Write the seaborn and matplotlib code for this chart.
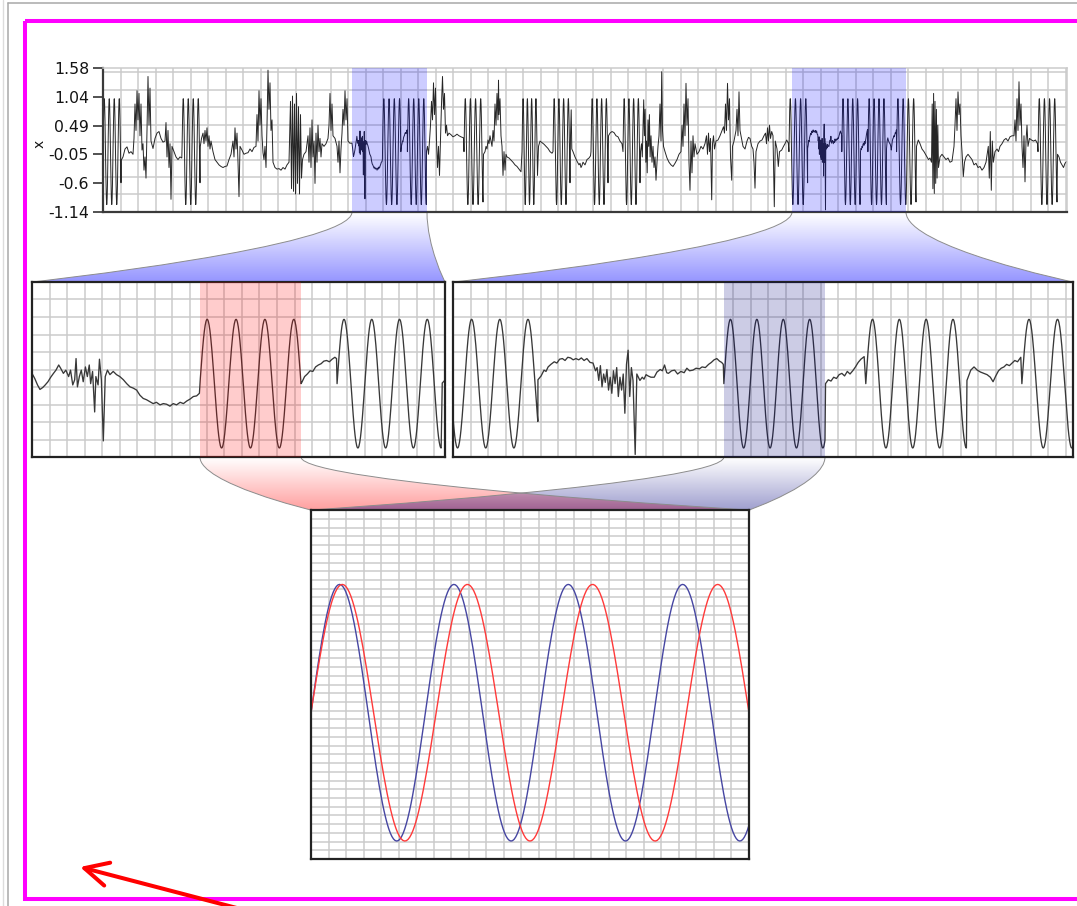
import numpy as np
import matplotlib
matplotlib.use("Agg")
import matplotlib.pyplot as plt
import seaborn as sns
from matplotlib.path import Path
from matplotlib.patches import PathPatch, Rectangle, FancyArrowPatch
from matplotlib.ticker import FixedLocator
from matplotlib.colors import to_rgb

# ---------------------------------------------------------------- data
# Sine bursts (unit amplitude): start time, end time, number of cycles
burst_start = [0.0, 79.0, 279.5, 304.4, 361.0, 419.0, 450.0, 488.0, 520.0,
               685.95, 738.8, 764.9, 793.6, 935.0]
burst_end = [18.0, 97.0, 297.85, 323.3, 380.0, 434.0, 467.0, 505.0, 537.0,
             704.6, 757.4, 783.4, 813.0, 954.0]
burst_cycles = [3.6, 3.6, 3.5, 3.75, 3.7, 3.5, 3.6, 3.6, 3.6,
                3.6, 3.83, 3.75, 3.7, 3.7]

# Drifting / noisy stretches between the bursts: (time, value)
wander_01 = [(18.3, -0.16), (20, -0.1), (22, 0.05), (24, 0.09), (26, -0.03), (28, 0.0),
             (30, -0.05), (31, 0.25), (32, 0.9), (33, 0.4), (34, 1.15), (35, 0.6), (36, 1.1),
             (37, 0.3), (38, 0.9), (39, 0.03), (40, 0.15), (41, -0.35), (42, -0.1), (43, -0.5),
             (44, 0.4), (45, 1.42), (46, 0.5), (47, 1.2), (48, 0.2), (50, 0.06), (52, 0.25),
             (54, 0.35), (56, 0.38), (58, 0.25), (60, 0.18), (62, 0.2), (63, 0.55), (64, -0.1),
             (65, 0.4), (66, -0.3), (67, 0.15), (68, -0.9), (69, 0.1), (71, 0.0), (73, -0.1),
             (75, -0.15), (77, -0.1), (78.8, -0.12)]
wander_02 = [(97.3, 0.1), (98.5, 0.25), (100, 0.35), (101, 0.15), (102, 0.4), (103, 0.2),
             (104, 0.45), (105, 0.1), (106, 0.3), (107, 0.05), (108, 0.2), (110, 0.0),
             (112, -0.15), (114, -0.2), (116, -0.25), (118, -0.28), (120, -0.3), (122, -0.28),
             (124, -0.27), (126, -0.15), (128, -0.05), (130, 0.2), (131, -0.1), (132, 0.45),
             (133, 0.05), (134, 0.35), (135, -0.2), (136, -0.85), (137, 0.1), (139, 0.03),
             (141, -0.05), (143, -0.03), (145, -0.02), (147, 0.05), (149, 0.0), (151, 0.08),
             (153, 0.1), (154, 0.7), (155, 0.2), (156, 1.15), (157, 0.5), (158, 1.0), (159, 0.3),
             (160, -0.02), (161, -0.15), (162, 0.1), (163, -0.3), (164, 0.5), (165, 1.54),
             (166, 0.8), (167, 1.3), (168, 0.4), (169, 0.6), (170, -0.2), (172, -0.3),
             (174, -0.33), (176, -0.32), (178, -0.35), (180, -0.3), (182, -0.33), (184, -0.25),
             (186, -0.2), (187.5, 0.95), (188.5, -0.7), (189.5, 1.05), (190.5, -0.75),
             (191.5, 0.9), (192.5, -0.8), (193.5, 1.1), (194.5, -0.6), (195.5, 0.85),
             (196.5, -0.8), (197.5, 0.7), (198.5, -0.5)]
wander_03 = [(199.5, -0.15), (201, -0.05), (203, 0.0), (205, 0.3), (206, -0.2), (207, 0.45),
             (208, -0.3), (209, 0.6), (210, -0.1), (211, 0.2), (212, -0.6), (213, 0.35),
             (214, -0.2), (215, 0.5), (216, 0.0), (217, 0.25), (218, -0.1), (219, 0.15),
             (221, 0.1), (223, 0.15), (225, 0.25), (226, 0.5), (227, 1.1), (228, 0.4),
             (229, 0.9), (230, 0.3), (232, 0.25), (234, 0.1), (235, -0.2), (236, 0.2),
             (237, -0.4), (238, 0.05), (239, 0.35), (240, 0.8), (241, 0.5), (242, 1.15),
             (243, 0.6), (244, 1.0), (245, 0.2), (246.8, 0.16),
             (249.0, 0.16), (249.5, 0.08), (250.0, -0.02), (250.45, -0.09), (250.95, -0.06),
             (251.4, -0.02), (251.9, 0.03), (252.4, 0.10), (252.9, 0.16), (253.35, 0.21),
             (253.85, 0.29), (254.2, 0.24), (254.7, 0.16), (255.15, 0.21), (255.65, 0.11),
             (256.0, 0.21), (256.4, -0.02), (256.75, 0.06), (257.0, 0.39), (257.25, -0.05),
             (257.6, 0.11), (257.95, 0.21), (258.3, 0.03), (258.7, 0.26), (259.05, 0.11),
             (259.4, 0.29), (259.65, 0.0), (260.0, 0.19), (260.38, -0.44), (260.6, 0.11),
             (261.0, -0.02), (261.25, 0.38), (261.6, 0.06), (261.95, -0.89), (262.3, 0.11),
             (262.7, 0.21), (263.15, 0.14), (263.75, 0.19), (264.35, 0.14), (264.95, 0.11),
             (265.6, 0.06), (266.2, 0.0), (266.8, -0.05), (267.4, -0.07), (268.0, -0.1),
             (268.6, -0.18), (269.2, -0.23), (269.8, -0.25), (270.4, -0.28), (271.0, -0.31),
             (271.6, -0.29), (272.25, -0.33), (272.85, -0.31), (273.45, -0.32), (274.05, -0.35),
             (274.65, -0.31), (275.25, -0.33), (275.9, -0.29), (276.5, -0.31), (277.1, -0.27),
             (277.7, -0.24), (278.3, -0.20), (278.9, -0.19), (279.4, -0.15)]
wander_04 = [(298.0, 0.02), (298.5, 0.11), (299.0, 0.15), (299.5, 0.2), (300.0, 0.19),
             (300.5, 0.26), (301.0, 0.29), (301.5, 0.31), (302.0, 0.35), (302.5, 0.36),
             (303.0, 0.34), (303.5, 0.38), (304.0, 0.41), (304.3, 0.39)]
wander_05 = [(323.5, 0.01), (324.5, 0.1), (325.5, -0.05), (326.5, 0.2), (327.5, 0.5),
             (328.5, 0.95), (329.5, 0.6), (330.5, 1.3), (331.5, 0.7), (332.5, 1.2), (333.5, 0.2),
             (334.5, -0.3), (335.5, 0.1), (336.5, -0.45), (337.5, 0.2), (338.5, 0.9),
             (339.5, 1.42), (340.5, 0.8), (341.5, 1.1), (342.5, 0.35), (343.5, 0.5), (344.5, 0.3),
             (346, 0.35), (348, 0.32), (350, 0.28), (352, 0.3), (354, 0.33), (356, 0.3),
             (358, 0.28), (360.5, 0.26)]
wander_06 = [(380.5, -0.05), (382, 0.0), (383, 0.1), (384, 0.05), (385, 0.22), (386, 0.15),
             (387, 0.3), (388, 0.2), (389, 0.1), (390, 0.4), (391, 0.2), (392, 0.9), (393, 0.5),
             (394, 1.1), (395, 0.6), (395.5, 1.35), (396, 0.7), (397, 1.0), (398, 0.3), (399, 0.1),
             (400, -0.45), (401, 0.0), (402, -0.35), (403, -0.05), (404, -0.1), (406, -0.12),
             (408, -0.16), (410, -0.2), (412, -0.25), (414, -0.28), (416, -0.33), (418, -0.38)]
wander_07 = [(434.5, -0.45), (435.5, 0.1), (437, 0.2), (439, 0.17), (441, 0.14), (443, 0.1),
             (445, 0.06), (447, 0.0), (449, -0.03)]
wander_08 = [(467.5, 0.3), (468.2, 0.79), (468.8, 0.05), (470, 0.0), (472, -0.1), (474, -0.18),
             (476, -0.25), (477, -0.22), (478, -0.3), (479, -0.26), (480, -0.2), (482, -0.25),
             (484, -0.15), (486, -0.12), (487.5, -0.08)]
wander_09 = [(505.5, 0.3), (507, 0.35), (509, 0.38), (511, 0.36), (513, 0.3), (515, 0.28),
             (517, 0.2), (519, 0.15)]
wander_10 = [(537.5, 0.0), (538.5, 0.15), (539.3, -0.1), (540, 0.45), (540.7, 0.98), (541.4, 0.3),
             (542.1, 0.8), (542.8, -0.2), (543.5, 0.2), (544.2, -0.4), (545, 0.6), (545.7, 0.1),
             (546.4, 0.7), (547.1, -0.1), (548, 0.3), (549, -0.2), (550, 0.1), (551, -0.3),
             (552, -0.1), (553, -0.54), (554, -0.2), (555, 0.1), (556, 0.3), (557, 0.9),
             (558, 0.2), (558.7, 1.51), (559.5, 0.4), (560.5, 0.1), (562, 0.0), (564, -0.12),
             (566, -0.2), (568, -0.25), (570, -0.28), (572, -0.22), (574, -0.15), (576, -0.05),
             (578, 0.0), (579, 0.5), (580, 0.1), (581, 0.9), (582, 0.3), (583, 1.29), (584, 0.5),
             (585, 1.0), (586, -0.2), (587, -0.73), (588, 0.2), (589, -0.4), (590, 0.3),
             (591, -0.1), (592, 0.15), (594, -0.05), (596, 0.0), (598, 0.1), (600, 0.05),
             (602, 0.15), (603.5, 0.3), (604.5, -0.05), (605.5, 0.35), (606.5, 0.0),
             (607.5, 0.25), (608.7, -0.91), (609.5, 0.15), (610.5, 0.3), (611.5, 0.05),
             (613, 0.2), (615, 0.22), (617, 0.3), (619, 0.4), (620.5, 0.47), (621.5, 0.35),
             (622.5, 0.9), (623.5, 0.4), (624.5, 1.29), (625.5, 0.6), (626.5, 1.0),
             (627.5, -0.1), (628.7, -0.54), (629.5, 0.1), (631, 0.2), (633, 0.4), (634, 0.8),
             (635, 0.3), (636, 1.13), (637, 0.4), (638.5, 0.25), (640, 0.1), (642, 0.05),
             (644, 0.2), (645.5, 0.27), (647, 0.25), (648.7, 0.1), (650, 0.05), (651, -0.2),
             (652, -0.69), (653, 0.0), (655, 0.15), (657, 0.2), (659, 0.22), (661, 0.3),
             (662.5, 0.35), (663.5, 0.15), (664.5, 0.45), (665.5, 0.2), (666.5, 0.5),
             (667.5, 0.25), (668.7, 0.38), (670, 0.3), (671.3, -1.04), (672.3, 0.2),
             (674, 0.05), (675.3, -0.28), (676.5, 0.0), (678.7, 0.03), (680.5, 0.1),
             (682, 0.15), (683.7, 0.22), (685.3, 0.16)]
wander_11 = [(704.62, 0.06), (705.2, 0.12), (705.74, 0.21), (706.1, 0.19), (706.49, 0.26),
             (707.0, 0.3), (707.62, 0.34), (708.1, 0.32), (708.6, 0.38), (709.12, 0.39),
             (709.6, 0.36), (710.1, 0.41), (710.62, 0.40), (711.1, 0.37), (711.6, 0.39),
             (712.12, 0.37), (712.6, 0.40), (713.1, 0.36), (713.62, 0.39), (714.2, 0.33),
             (714.75, 0.32), (715.2, 0.2), (715.5, 0.25), (715.8, 0.05), (716.1, 0.28),
             (716.4, -0.05), (716.7, 0.15), (717.0, 0.02), (717.3, 0.22), (717.6, -0.1),
             (717.9, 0.1), (718.2, -0.15), (718.5, 0.2), (718.8, 0.0), (719.1, 0.25),
             (719.4, -0.2), (719.7, 0.1), (720.0, -0.1), (720.3, 0.15), (720.6, -0.46),
             (720.9, 0.3), (721.2, 0.52), (721.5, -0.2), (721.8, 0.25), (722.1, 0.05),
             (722.5, -1.1), (722.8, 0.15), (723.37, 0.05), (723.8, 0.1), (724.12, 0.07),
             (724.5, 0.14), (724.87, 0.12), (725.4, 0.1), (726.0, 0.1), (726.5, 0.18),
             (727.1, 0.22), (727.5, 0.2), (727.9, 0.29), (728.3, 0.17), (728.6, 0.16),
             (729.2, 0.2), (729.75, 0.21), (730.3, 0.15), (730.9, 0.19), (731.5, 0.17),
             (732.0, 0.24), (732.5, 0.2), (733.1, 0.21), (733.7, 0.24), (734.3, 0.23),
             (734.8, 0.26), (735.4, 0.25), (736.0, 0.3), (736.5, 0.33), (737.0, 0.37),
             (737.5, 0.39), (738.0, 0.35), (738.4, 0.33), (738.7, 0.3)]
wander_12 = [(757.5, 0.0), (758.0, 0.06), (758.5, 0.04), (759.0, 0.1), (759.5, 0.08),
             (760.0, 0.14), (760.5, 0.16), (761.0, 0.12), (761.5, 0.19), (762.0, 0.15),
             (762.5, 0.2), (763.0, 0.26), (763.5, 0.33), (764.0, 0.38), (764.6, 0.42)]
wander_13 = [(783.5, 0.05), (784.2, 0.21), (784.8, 0.26), (785.4, 0.21), (786.0, 0.18),
             (786.6, 0.16), (787.2, 0.14), (787.8, 0.1), (788.3, 0.03), (788.8, 0.12),
             (789.3, 0.2), (789.8, 0.24), (790.3, 0.26), (790.8, 0.3), (791.3, 0.28),
             (791.8, 0.32), (792.3, 0.36), (792.8, 0.34), (793.4, 0.41)]
wander_14 = [(813.5, 0.1), (815.3, 0.22), (817, 0.15), (819, 0.05), (821, 0.0), (822.5, -0.05),
             (824, -0.1), (825.5, -0.15), (827, -0.12), (828.5, -0.2), (829.2, 0.9),
             (829.9, -0.7), (830.6, 1.1), (831.3, -0.79), (832, 0.95), (832.7, -0.6),
             (833.4, 0.8), (834.1, -0.5), (834.8, 0.5), (835.5, -0.3), (837, -0.1), (839, -0.05),
             (841, -0.1), (843, -0.15), (845, -0.12), (847, -0.2), (849, -0.18), (851, 0.1),
             (852, 0.5), (853, 1.0), (854, 0.4), (855, 1.13), (856, 0.7), (857, 0.9), (858, 0.3),
             (859, 0.0), (860.3, -0.47), (861.5, -0.2), (863, -0.1), (865, -0.05), (867, -0.1),
             (869, -0.15), (871, -0.25), (873, -0.22), (875, -0.3), (877, -0.28), (879, -0.35),
             (881, -0.3), (883, -0.2), (885.3, 0.1), (886.3, -0.5), (887.3, 0.38),
             (888.3, -0.73), (889.3, 0.2), (890.3, -0.2), (892, 0.0), (894, 0.05),
             (895.5, 0.0), (897, 0.1), (899, 0.15), (901, 0.22), (903, 0.25), (905, 0.2),
             (907, 0.28), (909, 0.3), (911, 0.3), (912, 0.6), (913, 0.2), (914, 1.0), (915, 0.4),
             (916, 1.32), (917, 0.5), (918, 0.9), (919, 0.1), (920, -0.3), (921, 0.3),
             (922, -0.57), (923, 0.2), (924, 0.5), (925, 0.1), (926.5, 0.25), (928.5, 0.22),
             (930.5, 0.2), (932.5, 0.22), (934.5, 0.15)]
wander_15 = [(954.5, -0.05), (956, -0.1), (957.5, -0.2), (959, -0.25), (960.5, -0.3),
             (962, -0.22), (964.0, -0.18)]

wander_segments = [wander_01, wander_02, wander_03, wander_04, wander_05, wander_06,
                   wander_07, wander_08, wander_09, wander_10, wander_11, wander_12,
                   wander_13, wander_14, wander_15]

time_range = (0.0, 964.0)
y_limits = (-1.14, 1.58)
y_tick_labels = ["-1.14", "-0.6", "-0.05", "0.49", "1.04", "1.58"]

overview_windows = [(249.0, 324.0), (689.0, 803.0)]     # shown in the two middle panels
detail_windows = [(279.5, 297.85), (738.8, 757.4)]      # overlaid in the bottom panel
detail_colors = ["#ff0000", "#000080"]
zoom_line_colors = ["#ff3a3a", "#4646a2"]

# ---------------------------------------------------------------- series
def burst_curve(start, end, cycles, per_cycle=72):
    n = int(cycles * per_cycle) + 2
    t = np.linspace(start, end, n)
    return t, np.sin(2 * np.pi * cycles * (t - start) / (end - start))

pieces_t, pieces_v = [], []
for s, e, c in zip(burst_start, burst_end, burst_cycles):
    bt, bv = burst_curve(s, e, c)
    pieces_t.append(bt)
    pieces_v.append(bv)
for seg in wander_segments:
    arr = np.asarray(seg, dtype=float)
    pieces_t.append(arr[:, 0])
    pieces_v.append(arr[:, 1])
t_all = np.concatenate(pieces_t)
v_all = np.concatenate(pieces_v)
order = np.argsort(t_all, kind="stable")
t_all, v_all = t_all[order], v_all[order]

# ---------------------------------------------------------------- figure
sns.set_theme(style="white")
plt.rcParams["font.family"] = ["DejaVu Sans"]

W, H = 1077, 906
fig = plt.figure(figsize=(W / 100, H / 100), dpi=100)
fig.patch.set_facecolor("white")


def px_box(x0, y0, x1, y1):
    return [x0 / W, 1 - y1 / H, (x1 - x0) / W, (y1 - y0) / H]


ax_over = fig.add_axes([0, 0, 1, 1], zorder=0)
ax_over.axis("off")
ax_top = fig.add_axes(px_box(103, 68, 1067, 212), zorder=2)
ax_left = fig.add_axes(px_box(32, 282, 445, 457), zorder=2)
ax_right = fig.add_axes(px_box(453, 282, 1073, 457), zorder=2)
ax_zoom = fig.add_axes(px_box(311, 510, 749, 859), zorder=2)

GRID_COLOR = "#cbcbcb"


def pixel_grid(ax, step_x, step_y):
    pos = ax.get_position()
    w_px, h_px = pos.width * W, pos.height * H
    x0, x1 = ax.get_xlim()
    y0, y1 = ax.get_ylim()
    xs = x0 + np.arange(1, int(w_px / step_x) + 1) * step_x * (x1 - x0) / w_px
    ys = y0 + np.arange(1, int(h_px / step_y) + 1) * step_y * (y1 - y0) / h_px
    ax.xaxis.set_minor_locator(FixedLocator(xs))
    ax.yaxis.set_minor_locator(FixedLocator(ys))
    ax.grid(False, which="major")
    ax.grid(True, which="minor", color=GRID_COLOR, linewidth=1.1)
    ax.tick_params(which="minor", length=0)
    ax.set_axisbelow(True)


# overview
sns.lineplot(x=t_all, y=v_all, ax=ax_top, estimator=None, sort=False,
             color="#262626", linewidth=0.7)
ax_top.set_xlim(*time_range)
ax_top.set_ylim(*y_limits)
ax_top.set_xticks([])
ax_top.set_yticks(np.linspace(y_limits[0], y_limits[1], len(y_tick_labels)))
ax_top.set_yticklabels(y_tick_labels)
ax_top.tick_params(axis="y", which="major", length=7, width=1.2, color="#333333",
                   pad=3, labelsize=11.3, labelcolor="#141414", left=True)
ax_top.set_xlabel("")
ax_top.set_ylabel("x", fontsize=10, color="#141414")
ax_top.yaxis.set_label_coords(-0.058, 0.47)
pixel_grid(ax_top, 17.5, 17.5)
for side in ("top", "right"):
    ax_top.spines[side].set_color(GRID_COLOR)
    ax_top.spines[side].set_linewidth(1.1)
for side in ("left", "bottom"):
    ax_top.spines[side].set_color("#3a3a3a")
    ax_top.spines[side].set_linewidth(1.6)
for w0, w1 in overview_windows:
    ax_top.axvspan(w0, w1, color="#0000ff", alpha=0.2, lw=0, zorder=3)

# middle detail panels
for ax, win, dwin, dcol in zip((ax_left, ax_right), overview_windows,
                               detail_windows, detail_colors):
    sns.lineplot(x=t_all, y=v_all, ax=ax, estimator=None, sort=False,
                 color="#383838", linewidth=0.95)
    ax.set_xlim(*win)
    ax.set_ylim(*y_limits)
    ax.set_xticks([])
    ax.set_yticks([])
    ax.set_xlabel("")
    ax.set_ylabel("")
    pixel_grid(ax, 17.5, 17.5)
    for sp in ax.spines.values():
        sp.set_color("#222222")
        sp.set_linewidth(1.6)
    ax.axvspan(dwin[0], dwin[1], color=dcol, alpha=0.2, lw=0, zorder=3)

# bottom overlay of the two highlighted bursts, each on its own normalised window
for (w0, w1), col in zip(detail_windows[::-1], zoom_line_colors[::-1]):
    m = (t_all >= w0) & (t_all <= w1)
    sns.lineplot(x=(t_all[m] - w0) / (w1 - w0), y=v_all[m], ax=ax_zoom,
                 estimator=None, sort=False, color=col, linewidth=1.0)
ax_zoom.set_xlim(0, 1)
ax_zoom.set_ylim(*y_limits)
ax_zoom.set_xticks([])
ax_zoom.set_yticks([])
ax_zoom.set_xlabel("")
ax_zoom.set_ylabel("")
pixel_grid(ax_zoom, 17.5, 8.72)
for sp in ax_zoom.spines.values():
    sp.set_color("#222222")
    sp.set_linewidth(1.6)

# ---------------------------------------------------------------- connectors
ax_over.set_xlim(0, W)
ax_over.set_ylim(H, 0)
inv = ax_over.transData.inverted()


def connector(src_ax, window, dst_ax, color, alpha_max):
    y_lo = src_ax.get_ylim()[0]
    (xtl, yt), (xtr, _) = inv.transform(
        src_ax.transData.transform([(window[0], y_lo), (window[1], y_lo)]))
    (xbl, yb), (xbr, _) = inv.transform(dst_ax.transAxes.transform([(0, 1), (1, 1)]))
    ym = (yt + yb) / 2
    verts = [(xtl, yt), (xtl, ym), (xbl, yb), (xbl, yb), (xbr, yb),
             (xbr, yb), (xtr, ym), (xtr, yt), (xtl, yt)]
    codes = [Path.MOVETO, Path.CURVE4, Path.CURVE4, Path.CURVE4, Path.LINETO,
             Path.CURVE4, Path.CURVE4, Path.CURVE4, Path.CLOSEPOLY]
    clip = PathPatch(Path(verts, codes), facecolor="none", edgecolor="none",
                     transform=ax_over.transData)
    ax_over.add_patch(clip)
    rgba = np.zeros((256, 1, 4))
    rgba[..., :3] = to_rgb(color)
    rgba[:, 0, 3] = np.linspace(0.0, alpha_max, 256)
    im = ax_over.imshow(rgba, extent=(min(xtl, xbl), max(xtr, xbr), yb, yt),
                        origin="upper", aspect="auto", interpolation="bilinear", zorder=1)
    im.set_clip_path(clip)
    left = Path([(xtl, yt), (xtl, ym), (xbl, yb), (xbl, yb)],
                [Path.MOVETO, Path.CURVE4, Path.CURVE4, Path.CURVE4])
    right = Path([(xtr, yt), (xtr, ym), (xbr, yb), (xbr, yb)],
                 [Path.MOVETO, Path.CURVE4, Path.CURVE4, Path.CURVE4])
    for p in (left, right):
        ax_over.add_patch(PathPatch(p, fill=False, edgecolor="#8c8c8c", lw=0.7, zorder=2))


connector(ax_top, overview_windows[0], ax_left, "#0000ff", 0.42)
connector(ax_top, overview_windows[1], ax_right, "#0000ff", 0.42)
connector(ax_left, detail_windows[0], ax_zoom, "#ff0000", 0.38)
connector(ax_right, detail_windows[1], ax_zoom, "#000080", 0.38)

# ---------------------------------------------------------------- frame decorations
ax_over.plot([3, 3], [0, H], color="#dcdcdc", lw=1.0, zorder=3)
ax_over.plot([8, 8], [3, H], color="#a8a8a8", lw=1.1, zorder=3)
ax_over.plot([8, W], [3, 3], color="#a8a8a8", lw=1.1, zorder=3)
ax_over.add_patch(Rectangle((25, 21), 1100, 878, fill=False, edgecolor="#ff00ff",
                            lw=2.9, zorder=4))
ax_over.add_patch(FancyArrowPatch((252, 912), (80, 867),
                                  arrowstyle="->,head_length=1.7,head_width=0.85",
                                  mutation_scale=10, color="#ff0000", lw=2.9,
                                  shrinkA=0, shrinkB=0, zorder=5))
ax_over.set_xlim(0, W)
ax_over.set_ylim(H, 0)

fig.savefig("out.png", dpi=100, facecolor="white")
